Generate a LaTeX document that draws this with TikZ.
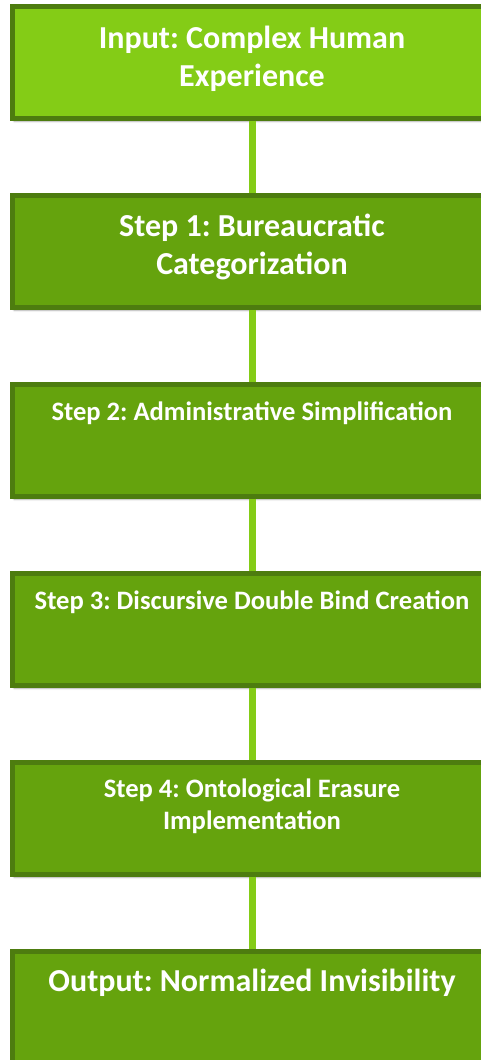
\documentclass[tikz,border=0pt]{standalone}
\usepackage{fontspec}
\setmainfont{Carlito}
\usetikzlibrary{positioning,shadows.blur}
\definecolor{limelight}{HTML}{84CC16}
\definecolor{limemid}{HTML}{65A30D}
\definecolor{limedark}{HTML}{4D7C0F}
\frenchspacing

\begin{document}
\begin{tikzpicture}[x=1pt,y=-1pt,node distance=189pt,
  stage node/.style={rectangle,draw=limedark,line width=5pt,fill=limemid,minimum width=480pt,minimum height=111.5pt,inner sep=0pt,
    blur shadow={shadow xshift=2pt,shadow yshift=-3pt,shadow blur steps=6,shadow opacity=35}},
  caption node/.style={anchor=north,text=white,align=center,inner sep=0pt},
  big text/.style={font=\fontsize{32}{38}\selectfont\bfseries},
  small text/.style={font=\fontsize{26.6}{32}\selectfont\bfseries},
  link/.style={draw=limelight,line width=7pt,
    preaction={draw=black,opacity=0.12,transform canvas={xshift=2.5pt}}}]

    \useasboundingbox (0,0) rectangle (481,1060);
    \clip (0,0) rectangle (481,1060);

    % the six stages
    \node[stage node,fill=limelight] (in) at (252,62.5) {};
    \node[stage node] (s1) [below of=in] {};
    \node[stage node] (s2) [below of=s1] {};
    \node[stage node] (s3) [below of=s2] {};
    \node[stage node] (s4) [below of=s3] {};
    \node[stage node] (out) [below of=s4] {};

    % texts, hung from the top of each box
    \node[caption node,big text] (tin) at ([yshift=-22pt]in.north) {Input: Complex Human\\Experience};
    \node[caption node,big text] (ts1) at ([yshift=-21pt]s1.north) {Step 1: Bureaucratic\\Categorization};
    \node[caption node,small text] (ts2) at ([yshift=-19.5pt]s2.north) {Step 2: Administrative Simplification};
    \node[caption node,small text] (ts3) at ([yshift=-19pt]s3.north) {Step 3: Discursive Double Bind Creation};
    \node[caption node,small text] (ts4) at ([yshift=-18.5pt]s4.north) {Step 4: Ontological Erasure\\Implementation};
    \node[caption node,big text] (tout) at ([yshift=-20pt]out.north) {Output: Normalized Invisibility};

    \path[link]
        (in) edge (s1)
        (s1) edge (s2)
        (s2) edge (s3)
        (s3) edge (s4)
        (s4) edge (out)
    ;
\end{tikzpicture}
\end{document}
